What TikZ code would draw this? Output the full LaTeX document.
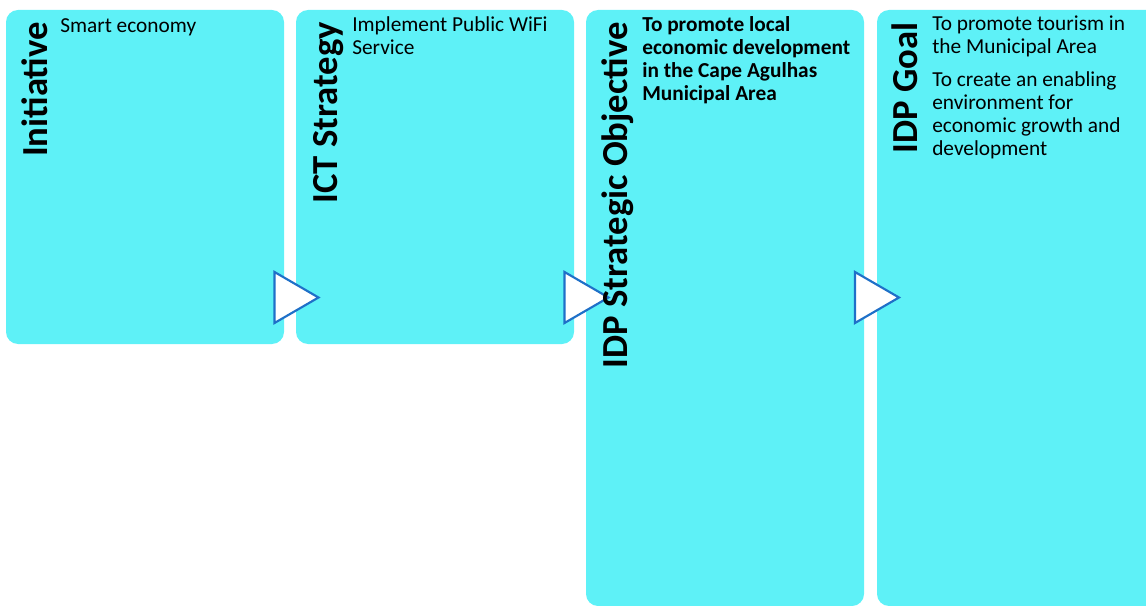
\documentclass[tikz,border=0pt]{standalone}
\usepackage{fontspec}
\setmainfont{Carlito}
\usetikzlibrary{positioning}
\definecolor{panelcyan}{RGB}{94,241,247}
\definecolor{chevronblue}{RGB}{31,112,200}

\begin{document}
\begin{tikzpicture}[x=0.75pt,y=-0.75pt,
  panel/.style={fill=panelcyan, rounded corners=9pt},
  chevron/.style={draw=chevronblue, fill=white, line width=1.6pt, line join=miter},
  title/.style={rotate=90, anchor=base east, inner sep=0pt, font=\fontsize{27.5}{30}\selectfont\bfseries},
  body/.style={anchor=north west, inner sep=0pt, align=left, font=\fontsize{16}{17.2}\selectfont,
    execute at begin node=\strut}]
\useasboundingbox (0,0) rectangle (1146,606);
\clip (0,0) rectangle (1146,606);

% panels
\fill[panel] (6,10) rectangle (284,344);
\fill[panel] (296,10) rectangle (574,344);
\fill[panel] (586,10) rectangle (864,606);
\fill[panel] (877,10) rectangle (1160,606);

% chevrons
\draw[chevron] (274.5,272) -- (318.5,297.5) -- (274.5,323) -- cycle;
\draw[chevron] (564.5,272) -- (608.5,297.5) -- (564.5,323) -- cycle;
\draw[chevron] (855,272) -- (899,297.5) -- (855,323) -- cycle;

% titles
\node[title] (tInit) at (47,22) {Initiative};
\node[title] (tICT) at (337,22) {ICT Strategy};
\node[title] (tObj) at (627,22) {IDP Strategic Objective};
\node[title] (tGoal) at (917,22) {IDP Goal};

% texts
\node[body] (bInit) at (60,16) {Smart economy};
\node[body] (bICT) at (352,16) {Implement Public WiFi\\Service};
\node[body, font=\fontsize{16}{17.2}\selectfont\bfseries] (bObj) at (642,16)
  {To promote local\\economic development\\in the Cape Agulhas\\Municipal Area};
\node[body] (bGoal) at (932,16)
  {To promote tourism in\\the Municipal Area\\[7.5pt]To create an enabling\\environment for\\economic growth and\\development};

\end{tikzpicture}
\end{document}
